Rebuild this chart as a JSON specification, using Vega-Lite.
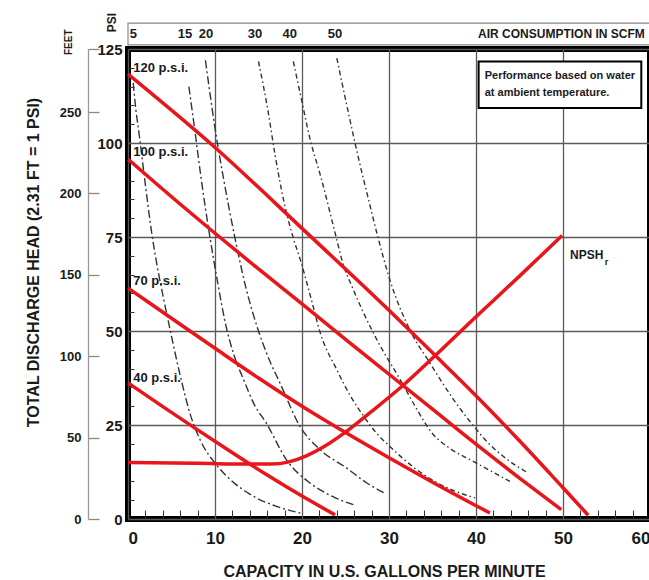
{
  "$schema": "https://vega.github.io/schema/vega-lite/v6.json",
  "autosize": "none",
  "width": 522,
  "height": 470,
  "padding": {"left": 128, "top": 49, "right": 0, "bottom": 61},
  "background": "white",
  "config": {
    "font": "Liberation Sans, Arial, sans-serif",
    "view": {"stroke": "black", "strokeWidth": 6}
  },
  "datasets": {
    "pressure": [
      {"series": "120", "gpm": 0, "psi": 118.3}, {"series": "120", "gpm": 10, "psi": 98.8}, {"series": "120", "gpm": 20, "psi": 77.3}, {"series": "120", "gpm": 30, "psi": 55.5}, {"series": "120", "gpm": 35, "psi": 44.2}, {"series": "120", "gpm": 40, "psi": 32.8}, {"series": "120", "gpm": 45, "psi": 20.8}, {"series": "120", "gpm": 50, "psi": 8.3}, {"series": "120", "gpm": 52.9, "psi": 1},
      {"series": "100", "gpm": 0, "psi": 95.7}, {"series": "100", "gpm": 5, "psi": 85.7}, {"series": "100", "gpm": 10, "psi": 76}, {"series": "100", "gpm": 15, "psi": 66.5}, {"series": "100", "gpm": 20, "psi": 57.2}, {"series": "100", "gpm": 25, "psi": 47.8}, {"series": "100", "gpm": 30, "psi": 38.5}, {"series": "100", "gpm": 35, "psi": 29.2}, {"series": "100", "gpm": 40, "psi": 19.9}, {"series": "100", "gpm": 45, "psi": 10.9}, {"series": "100", "gpm": 49.8, "psi": 2.5},
      {"series": "70", "gpm": 0, "psi": 61.4}, {"series": "70", "gpm": 5, "psi": 53.4}, {"series": "70", "gpm": 10, "psi": 45.4}, {"series": "70", "gpm": 15, "psi": 37.5}, {"series": "70", "gpm": 20, "psi": 30}, {"series": "70", "gpm": 25, "psi": 23}, {"series": "70", "gpm": 30, "psi": 16.3}, {"series": "70", "gpm": 35, "psi": 9.8}, {"series": "70", "gpm": 41.6, "psi": 1.6},
      {"series": "40", "gpm": 0, "psi": 36.2}, {"series": "40", "gpm": 4, "psi": 29.9}, {"series": "40", "gpm": 8, "psi": 23.7}, {"series": "40", "gpm": 12, "psi": 17.6}, {"series": "40", "gpm": 16, "psi": 11.7}, {"series": "40", "gpm": 20, "psi": 6.1}, {"series": "40", "gpm": 23.8, "psi": 1.1},
      {"series": "NPSH", "gpm": 0, "psi": 15}, {"series": "NPSH", "gpm": 8, "psi": 14.8}, {"series": "NPSH", "gpm": 14, "psi": 14.6}, {"series": "NPSH", "gpm": 16.5, "psi": 14.6}, {"series": "NPSH", "gpm": 18.5, "psi": 15.2}, {"series": "NPSH", "gpm": 20.5, "psi": 16.8}, {"series": "NPSH", "gpm": 22.5, "psi": 19.2}, {"series": "NPSH", "gpm": 25, "psi": 23.1}, {"series": "NPSH", "gpm": 28, "psi": 28.6}, {"series": "NPSH", "gpm": 31.5, "psi": 35.3}, {"series": "NPSH", "gpm": 35.1, "psi": 43}, {"series": "NPSH", "gpm": 40, "psi": 53.8}, {"series": "NPSH", "gpm": 45, "psi": 64.6}, {"series": "NPSH", "gpm": 49.9, "psi": 75.4}
    ],
    "air": [
      {"scfm": "5", "gpm": 0.6, "psi": 116}, {"scfm": "5", "gpm": 0.9, "psi": 109}, {"scfm": "5", "gpm": 1.3, "psi": 102}, {"scfm": "5", "gpm": 1.9, "psi": 90.7}, {"scfm": "5", "gpm": 2.7, "psi": 76.5}, {"scfm": "5", "gpm": 3.3, "psi": 68}, {"scfm": "5", "gpm": 4.2, "psi": 57.4}, {"scfm": "5", "gpm": 5, "psi": 48.6}, {"scfm": "5", "gpm": 6.1, "psi": 37.2}, {"scfm": "5", "gpm": 7.2, "psi": 27.5}, {"scfm": "5", "gpm": 8.3, "psi": 21}, {"scfm": "5", "gpm": 10.2, "psi": 14.3}, {"scfm": "5", "gpm": 12.1, "psi": 9.8}, {"scfm": "5", "gpm": 14, "psi": 6.6}, {"scfm": "5", "gpm": 17, "psi": 3.4}, {"scfm": "5", "gpm": 19.8, "psi": 1.6},
      {"scfm": "15", "gpm": 7, "psi": 115}, {"scfm": "15", "gpm": 7.7, "psi": 103}, {"scfm": "15", "gpm": 8.4, "psi": 90.7}, {"scfm": "15", "gpm": 9.4, "psi": 75.2}, {"scfm": "15", "gpm": 10.3, "psi": 63}, {"scfm": "15", "gpm": 11.2, "psi": 52}, {"scfm": "15", "gpm": 12.2, "psi": 43.5}, {"scfm": "15", "gpm": 13.3, "psi": 37}, {"scfm": "15", "gpm": 14.5, "psi": 30.5}, {"scfm": "15", "gpm": 15.9, "psi": 25.5}, {"scfm": "15", "gpm": 18.2, "psi": 15.8}, {"scfm": "15", "gpm": 20.9, "psi": 9.6}, {"scfm": "15", "gpm": 23.5, "psi": 6}, {"scfm": "15", "gpm": 25.9, "psi": 3.8},
      {"scfm": "20", "gpm": 8.9, "psi": 122}, {"scfm": "20", "gpm": 10, "psi": 104}, {"scfm": "20", "gpm": 11.1, "psi": 89}, {"scfm": "20", "gpm": 12.3, "psi": 74.7}, {"scfm": "20", "gpm": 13.5, "psi": 62}, {"scfm": "20", "gpm": 15, "psi": 50}, {"scfm": "20", "gpm": 16.3, "psi": 42}, {"scfm": "20", "gpm": 17.5, "psi": 36}, {"scfm": "20", "gpm": 19.8, "psi": 24.5}, {"scfm": "20", "gpm": 22.1, "psi": 18.4}, {"scfm": "20", "gpm": 25.1, "psi": 13.6}, {"scfm": "20", "gpm": 27.5, "psi": 9.5}, {"scfm": "20", "gpm": 29.5, "psi": 6.9},
      {"scfm": "30", "gpm": 15, "psi": 121.7}, {"scfm": "30", "gpm": 16.1, "psi": 108.4}, {"scfm": "30", "gpm": 16.9, "psi": 96.9}, {"scfm": "30", "gpm": 18, "psi": 83.6}, {"scfm": "30", "gpm": 19, "psi": 74.7}, {"scfm": "30", "gpm": 19.8, "psi": 69}, {"scfm": "30", "gpm": 21, "psi": 59}, {"scfm": "30", "gpm": 22.1, "psi": 49.5}, {"scfm": "30", "gpm": 24, "psi": 39.7}, {"scfm": "30", "gpm": 25.5, "psi": 33}, {"scfm": "30", "gpm": 27.1, "psi": 27.3}, {"scfm": "30", "gpm": 28.5, "psi": 23}, {"scfm": "30", "gpm": 30.1, "psi": 19.3}, {"scfm": "30", "gpm": 33.2, "psi": 13.1}, {"scfm": "30", "gpm": 36.5, "psi": 8.5}, {"scfm": "30", "gpm": 39.9, "psi": 5.6},
      {"scfm": "40", "gpm": 19, "psi": 121.7}, {"scfm": "40", "gpm": 19.9, "psi": 112}, {"scfm": "40", "gpm": 20.9, "psi": 101.3}, {"scfm": "40", "gpm": 22.2, "psi": 90.7}, {"scfm": "40", "gpm": 23.9, "psi": 75.2}, {"scfm": "40", "gpm": 24.7, "psi": 68}, {"scfm": "40", "gpm": 25.9, "psi": 61}, {"scfm": "40", "gpm": 28.6, "psi": 47.7}, {"scfm": "40", "gpm": 31.3, "psi": 37}, {"scfm": "40", "gpm": 33, "psi": 30}, {"scfm": "40", "gpm": 34.9, "psi": 23}, {"scfm": "40", "gpm": 37, "psi": 18.8}, {"scfm": "40", "gpm": 39.7, "psi": 15.3}, {"scfm": "40", "gpm": 43.9, "psi": 10},
      {"scfm": "50", "gpm": 24, "psi": 122.6}, {"scfm": "50", "gpm": 25.3, "psi": 108.4}, {"scfm": "50", "gpm": 26.4, "psi": 96.9}, {"scfm": "50", "gpm": 27.6, "psi": 85.4}, {"scfm": "50", "gpm": 28.7, "psi": 75.2}, {"scfm": "50", "gpm": 30.1, "psi": 63.6}, {"scfm": "50", "gpm": 32.4, "psi": 50.3}, {"scfm": "50", "gpm": 34.7, "psi": 41.5}, {"scfm": "50", "gpm": 37.5, "psi": 31.5}, {"scfm": "50", "gpm": 39.7, "psi": 24.8}, {"scfm": "50", "gpm": 41.5, "psi": 20}, {"scfm": "50", "gpm": 43.5, "psi": 16}, {"scfm": "50", "gpm": 46, "psi": 12.2}
    ],
    "pLabels": [
      {"label": "120 p.s.i.", "gpm": 0.6, "psi": 120},
      {"label": "100 p.s.i.", "gpm": 0.6, "psi": 97.5},
      {"label": "70 p.s.i.", "gpm": 0.6, "psi": 63.2},
      {"label": "40 p.s.i.", "gpm": 0.6, "psi": 37.5}
    ],
    "scfmLabels": [
      {"label": "5", "gpm": 0.63}, {"label": "15", "gpm": 6.55}, {"label": "20", "gpm": 8.97},
      {"label": "30", "gpm": 14.6}, {"label": "40", "gpm": 18.6}, {"label": "50", "gpm": 23.8}
    ]
  },
  "resolve": {
    "scale": {"x": "independent", "y": "independent"},
    "axis": {"x": "independent", "y": "independent"}
  },
  "layer": [
    {
      "layer": [
        {
          "data": {"values": [{"x1": 0, "x2": 60, "y1": 126.1, "y2": 131.9}]},
          "mark": {"type": "rect", "fill": "white", "stroke": "#888888", "strokeWidth": 1.2},
          "encoding": {
            "x": {"field": "x1", "type": "quantitative", "scale": {"domain": [0, 60], "nice": false, "zero": true},
              "axis": {"orient": "bottom", "values": [0, 10, 20, 30, 40, 50, 60], "grid": true, "gridColor": "#5a5a5a", "gridWidth": 1.3, "ticks": false, "domain": false,
                "labelFontSize": 17, "labelFontWeight": "bold", "labelColor": "#1a1a1a", "labelPadding": 11,
                "title": "CAPACITY IN U.S. GALLONS PER MINUTE", "titleFontSize": 16, "titleFontWeight": "bold", "titleColor": "#1a1a1a", "titleX": 256, "titleY": 57, "titleBaseline": "alphabetic"}},
            "x2": {"field": "x2"},
            "y": {"field": "y1", "type": "quantitative", "scale": {"domain": [0, 125], "nice": false, "zero": true},
              "axis": {"orient": "left", "values": [0, 25, 50, 75, 100, 125], "grid": true, "gridColor": "#5a5a5a", "gridWidth": 1.3, "ticks": false, "domain": false,
                "labelFontSize": 15, "labelFontWeight": "bold", "labelColor": "#1a1a1a", "labelPadding": 6,
                "title": "PSI", "titleFontSize": 12, "titleFontWeight": "bold", "titleColor": "#1a1a1a", "titleAngle": 270, "titleX": -17, "titleY": -27, "titleAlign": "center", "titleBaseline": "middle"}},
            "y2": {"field": "y2"}
          }
        },
        {
          "data": {"name": "scfmLabels"},
          "mark": {"type": "text", "align": "center", "baseline": "middle", "fontSize": 13, "fontWeight": "bold", "color": "#1a1a1a"},
          "encoding": {
            "x": {"field": "gpm", "type": "quantitative"},
            "y": {"datum": 129.1, "type": "quantitative"},
            "text": {"field": "label"}
          }
        },
        {
          "data": {"values": [{"label": "AIR CONSUMPTION IN SCFM", "gpm": 59.4, "psi": 129.1}]},
          "mark": {"type": "text", "align": "right", "baseline": "middle", "fontSize": 12, "fontWeight": "bold", "color": "#1a1a1a"},
          "encoding": {
            "x": {"field": "gpm", "type": "quantitative"},
            "y": {"field": "psi", "type": "quantitative"},
            "text": {"field": "label"}
          }
        },
        {
          "data": {"values": [{"label": "FEET", "gpm": -6.78, "psi": 126.8}]},
          "mark": {"type": "text", "align": "center", "baseline": "middle", "angle": 270, "fontSize": 10, "fontWeight": "bold", "color": "#1a1a1a"},
          "encoding": {
            "x": {"field": "gpm", "type": "quantitative"},
            "y": {"field": "psi", "type": "quantitative"},
            "text": {"field": "label"}
          }
        },
        {
          "data": {"name": "air"},
          "mark": {"type": "line", "color": "#333333", "strokeWidth": 1.4, "interpolate": "monotone"},
          "encoding": {
            "x": {"field": "gpm", "type": "quantitative"},
            "y": {"field": "psi", "type": "quantitative"},
            "detail": {"field": "scfm"},
            "strokeDash": {"field": "scfm", "type": "nominal", "legend": null,
              "scale": {"domain": ["5", "15", "20", "30", "40", "50"], "range": [[8, 3, 2, 3], [8, 3, 2, 3], [8, 3, 2, 3], [5, 3, 1.5, 3], [5, 3, 1.5, 3], [5, 3, 1.5, 3]]}}
          }
        },
        {
          "data": {"name": "pressure"},
          "mark": {"type": "line", "color": "#e8151b", "strokeWidth": 3.5, "interpolate": "monotone"},
          "encoding": {
            "x": {"field": "gpm", "type": "quantitative"},
            "y": {"field": "psi", "type": "quantitative"},
            "detail": {"field": "series"}
          }
        },
        {
          "data": {"name": "pLabels"},
          "mark": {"type": "text", "align": "left", "baseline": "middle", "fontSize": 13, "fontWeight": "bold", "color": "#1a1a1a"},
          "encoding": {
            "x": {"field": "gpm", "type": "quantitative"},
            "y": {"field": "psi", "type": "quantitative"},
            "text": {"field": "label"}
          }
        },
        {
          "data": {"values": [{"label": "NPSH", "gpm": 50.8, "psi": 70.3}]},
          "mark": {"type": "text", "align": "left", "baseline": "middle", "fontSize": 12, "fontWeight": "bold", "color": "#1a1a1a"},
          "encoding": {
            "x": {"field": "gpm", "type": "quantitative"},
            "y": {"field": "psi", "type": "quantitative"},
            "text": {"field": "label"}
          }
        },
        {
          "data": {"values": [{"label": "r", "gpm": 54.8, "psi": 68.4}]},
          "mark": {"type": "text", "align": "left", "baseline": "middle", "fontSize": 9, "fontWeight": "bold", "color": "#1a1a1a"},
          "encoding": {
            "x": {"field": "gpm", "type": "quantitative"},
            "y": {"field": "psi", "type": "quantitative"},
            "text": {"field": "label"}
          }
        },
        {
          "data": {"values": [{"x1": 40.3, "x2": 59.0, "y1": 109.3, "y2": 121.7}]},
          "mark": {"type": "rect", "fill": "white", "stroke": "black", "strokeWidth": 2},
          "encoding": {
            "x": {"field": "x1", "type": "quantitative"},
            "x2": {"field": "x2"},
            "y": {"field": "y1", "type": "quantitative"},
            "y2": {"field": "y2"}
          }
        },
        {
          "data": {"values": [
            {"label": "Performance based on water", "gpm": 41.0, "psi": 117.7},
            {"label": "at ambient temperature.", "gpm": 41.0, "psi": 113.3}
          ]},
          "mark": {"type": "text", "align": "left", "baseline": "middle", "fontSize": 11, "fontWeight": "bold", "color": "#1a1a1a"},
          "encoding": {
            "x": {"field": "gpm", "type": "quantitative"},
            "y": {"field": "psi", "type": "quantitative"},
            "text": {"field": "label"}
          }
        }
      ]
    },
    {
      "data": {"values": [{"gpm": 0, "psi": 0}]},
      "mark": {"type": "point", "opacity": 0},
      "encoding": {
        "x": {"field": "gpm", "type": "quantitative", "scale": {"domain": [0, 60], "nice": false, "zero": true},
          "axis": {"orient": "bottom", "values": [2, 4, 6, 8, 12, 14, 16, 18, 22, 24, 26, 28, 32, 34, 36, 38, 42, 44, 46, 48, 52, 54, 56, 58], "labels": false, "domain": false, "grid": false, "tickSize": -9, "tickColor": "#333333", "tickWidth": 1, "title": null}},
        "y": {"field": "psi", "type": "quantitative", "scale": {"domain": [0, 125], "nice": false, "zero": true},
          "axis": {"orient": "left", "values": [5, 10, 15, 20, 30, 35, 40, 45, 55, 60, 65, 70, 80, 85, 90, 95, 105, 110, 115, 120], "labels": false, "domain": false, "grid": false, "tickSize": -6, "tickColor": "#333333", "tickWidth": 1, "title": null}}
      }
    },
    {
      "data": {"values": [{"feet": 0}]},
      "mark": {"type": "point", "opacity": 0},
      "encoding": {
        "y": {"field": "feet", "type": "quantitative", "scale": {"domain": [0, 288.75], "nice": false, "zero": true},
          "axis": {"orient": "left", "offset": 40, "values": [0, 50, 100, 150, 200, 250, 288.75], "labelExpr": "datum.value > 280 ? '' : datum.label",
            "domain": true, "domainColor": "#999999", "domainWidth": 1.3, "ticks": true, "tickSize": -11, "tickColor": "#888888", "tickWidth": 1.3, "grid": false,
            "labelFontSize": 13, "labelFontWeight": "bold", "labelColor": "#1a1a1a", "labelPadding": 18,
            "title": "TOTAL DISCHARGE HEAD (2.31 FT = 1 PSI)", "titleFontSize": 16, "titleFontWeight": "bold", "titleColor": "#1a1a1a", "titleAngle": 270, "titleX": -55, "titleY": 213, "titleAlign": "center", "titleBaseline": "middle"}}
      }
    }
  ]
}
